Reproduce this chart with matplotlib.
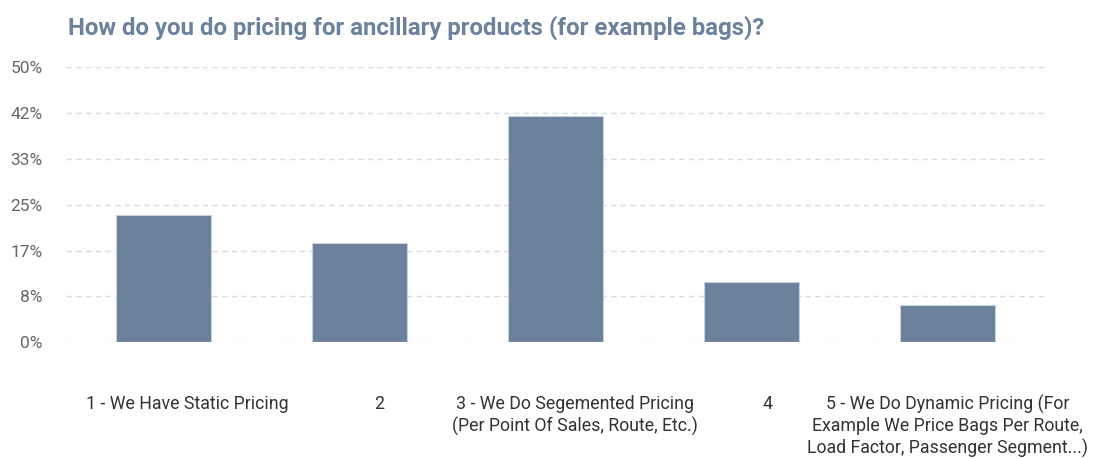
import numpy as np
from matplotlib import pyplot as plt
from matplotlib.ticker import FixedLocator, FixedFormatter

plt.rcParams['font.family'] = ['Roboto', 'DejaVu Sans']

categorias = [
    "1 - We Have Static Pricing",
    "2",
    "3 - We Do Segemented Pricing\n(Per Point Of Sales, Route, Etc.)",
    "4",
    "5 - We Do Dynamic Pricing (For\nExample We Price Bags Per Route,\nLoad Factor, Passenger Segment...)",
]
porcentajes = [23.1, 18.0, 41.1, 10.9, 6.8]
ticks_y = [0, 50 / 6, 100 / 6, 25, 200 / 6, 250 / 6, 50]
etiquetas_y = ["0%", "8%", "17%", "25%", "33%", "42%", "50%"]

titulo = "How do you do pricing for ancillary products (for example bags)?"

color_barra = "#6b819c"
color_texto = "#666666"

fig = plt.figure(figsize=(11.06, 4.58), dpi=100)
ax = fig.add_axes([0.0597, 0.2526, 0.8853, 0.6004])

x = np.arange(len(categorias))
ax.bar(x, porcentajes, width=0.485, color=color_barra, edgecolor="#c9d1dc", linewidth=0.8, zorder=3)

ax.set_xlim(-0.5, len(categorias) - 0.5)
ax.set_ylim(0, 50)
ax.yaxis.set_major_locator(FixedLocator(ticks_y))
ax.yaxis.set_major_formatter(FixedFormatter(etiquetas_y))
ax.grid(axis="y", color="#d5dde8", linestyle=(0, (4, 3)), linewidth=1, zorder=0)

# las etiquetas del eje x van algo corridas a la derecha (la ultima no, para que quepa)
desplazamiento = np.array([0.12, 0.1, 0.1, 0.08, 0.0])
ax.set_xticks(x + desplazamiento)
ax.set_xticklabels(categorias, fontsize=12.8, color="#333333", va="top", linespacing=1.22)
ax.tick_params(axis="x", length=0, pad=38)
ax.tick_params(axis="y", length=0, pad=17, labelsize=12.5, labelcolor=color_texto)

for lado in ax.spines.values():
    lado.set_visible(False)

fig.text(0.0615, 0.94, titulo, fontsize=17.3, fontweight="bold", color="#6b819c", va="center", ha="left")

fig.savefig("out.png", dpi=100)
